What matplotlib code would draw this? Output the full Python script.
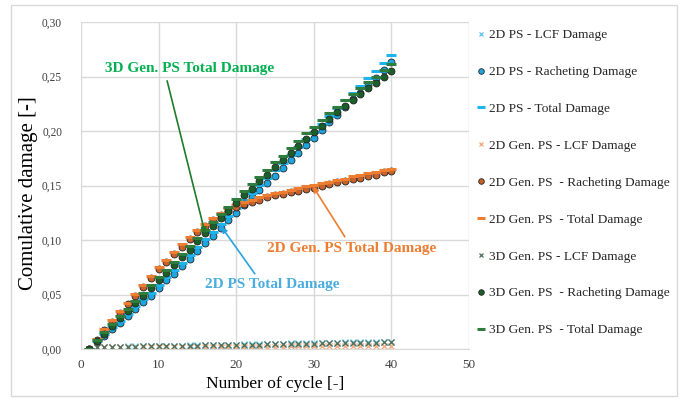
import numpy as np
import matplotlib
matplotlib.use("Agg")
import matplotlib.pyplot as plt
from matplotlib.patches import Rectangle

plt.rcParams['font.family'] = ['Liberation Serif', 'DejaVu Serif']

cycles = list(range(1, 41))

# 2D PS
lcf_2dps = [0.000, 0.0017, 0.0019, 0.0020, 0.0021, 0.0023, 0.0024, 0.0025, 0.0027, 0.0028,
            0.0029, 0.0031, 0.0032, 0.0033, 0.0035, 0.0036, 0.0037, 0.0039, 0.0040, 0.0041,
            0.0043, 0.0044, 0.0045, 0.0047, 0.0048, 0.0049, 0.0051, 0.0052, 0.0053, 0.0055,
            0.0056, 0.0057, 0.0059, 0.0060, 0.0061, 0.0063, 0.0064, 0.0065, 0.0067, 0.0068]
rach_2dps = [0.000, 0.006, 0.012, 0.018, 0.024, 0.030, 0.037, 0.043, 0.049, 0.056,
             0.063, 0.069, 0.076, 0.083, 0.090, 0.097, 0.104, 0.111, 0.118, 0.125,
             0.132, 0.139, 0.146, 0.152, 0.159, 0.166, 0.173, 0.180, 0.187, 0.194,
             0.201, 0.208, 0.215, 0.222, 0.229, 0.235, 0.242, 0.249, 0.256, 0.263]
tot_2dps = [0.000, 0.0077, 0.0139, 0.0200, 0.0261, 0.0323, 0.0394, 0.0455, 0.0517, 0.0588,
            0.0659, 0.0721, 0.0792, 0.0863, 0.0935, 0.1006, 0.1077, 0.1149, 0.1220, 0.1291,
            0.1363, 0.1434, 0.1505, 0.1567, 0.1638, 0.1709, 0.1781, 0.1852, 0.1923, 0.1995,
            0.2066, 0.2137, 0.2209, 0.2280, 0.2351, 0.2413, 0.2484, 0.2555, 0.2627, 0.2698]

# 2D Gen. PS
lcf_2dgen = [0.000, 0.0015, 0.0015, 0.0016, 0.0016, 0.0016, 0.0017, 0.0017, 0.0017, 0.0018,
             0.0018, 0.0018, 0.0019, 0.0019, 0.0019, 0.0020, 0.0020, 0.0020, 0.0021, 0.0021,
             0.0021, 0.0021, 0.0022, 0.0022, 0.0022, 0.0022, 0.0023, 0.0023, 0.0023, 0.0023,
             0.0024, 0.0024, 0.0024, 0.0024, 0.0024, 0.0025, 0.0025, 0.0025, 0.0025, 0.0025]
rach_2dgen = [0.000, 0.008, 0.017, 0.025, 0.033, 0.041, 0.049, 0.057, 0.065, 0.073,
              0.080, 0.087, 0.094, 0.101, 0.107, 0.113, 0.118, 0.123, 0.127, 0.130,
              0.133, 0.135, 0.137, 0.139, 0.141, 0.142, 0.144, 0.145, 0.147, 0.148,
              0.150, 0.151, 0.153, 0.154, 0.156, 0.157, 0.159, 0.160, 0.162, 0.163]
tot_2dgen = [0.000, 0.0095, 0.0185, 0.0266, 0.0346, 0.0426, 0.0507, 0.0587, 0.0667, 0.0748,
             0.0818, 0.0888, 0.0959, 0.1029, 0.1089, 0.1150, 0.1200, 0.1250, 0.1291, 0.1321,
             0.1351, 0.1371, 0.1392, 0.1412, 0.1432, 0.1442, 0.1463, 0.1473, 0.1493, 0.1503,
             0.1524, 0.1534, 0.1554, 0.1564, 0.1584, 0.1595, 0.1615, 0.1625, 0.1645, 0.1655]

# 3D Gen. PS
lcf_3dgen = [0.000, 0.0016, 0.0017, 0.0019, 0.0020, 0.0021, 0.0022, 0.0023, 0.0025, 0.0026,
             0.0027, 0.0028, 0.0029, 0.0031, 0.0032, 0.0033, 0.0034, 0.0035, 0.0037, 0.0038,
             0.0039, 0.0040, 0.0041, 0.0043, 0.0044, 0.0045, 0.0046, 0.0047, 0.0049, 0.0050,
             0.0051, 0.0052, 0.0053, 0.0055, 0.0056, 0.0057, 0.0058, 0.0059, 0.0061, 0.0062]
rach_3dgen = [0.000, 0.007, 0.014, 0.021, 0.028, 0.035, 0.042, 0.049, 0.056, 0.063,
              0.070, 0.077, 0.084, 0.091, 0.099, 0.106, 0.113, 0.120, 0.127, 0.134,
              0.141, 0.147, 0.154, 0.160, 0.167, 0.173, 0.180, 0.186, 0.193, 0.199,
              0.205, 0.211, 0.217, 0.223, 0.228, 0.234, 0.239, 0.244, 0.250, 0.255]
tot_3dgen = [0.000, 0.0086, 0.0157, 0.0229, 0.0300, 0.0371, 0.0442, 0.0513, 0.0585, 0.0656,
             0.0727, 0.0798, 0.0869, 0.0941, 0.1022, 0.1093, 0.1164, 0.1235, 0.1307, 0.1378,
             0.1449, 0.1510, 0.1581, 0.1643, 0.1714, 0.1775, 0.1846, 0.1907, 0.1979, 0.2040,
             0.2101, 0.2162, 0.2223, 0.2285, 0.2336, 0.2397, 0.2448, 0.2499, 0.2561, 0.2612]

y_ticks = [0.00, 0.05, 0.10, 0.15, 0.20, 0.25, 0.30]
x_ticks = [0, 10, 20, 30, 40, 50]

fig = plt.figure(figsize=(6.81, 4.01), dpi=100)
ax = fig.add_axes([81 / 681, 52 / 401, 388 / 681, 327 / 401])

# Excel-like outer chart border
fig.patches.append(Rectangle((11 / 681, 5 / 401), 666 / 681, 391 / 401, transform=fig.transFigure,
                             fill=False, edgecolor='#d9d9d9', lw=1))

edge = '#222222'
series = [
    (lcf_2dps, '2D PS - LCF Damage', dict(marker='x', ms=4, mew=0.9, color='#5bc4ef')),
    (rach_2dps, '2D PS - Racheting Damage', dict(marker='o', ms=5, mfc='#1ea6e0', mec=edge, mew=0.6)),
    (tot_2dps, '2D PS - Total Damage', dict(marker='_', ms=7, mew=2.2, color='#1fb4ec')),
    (lcf_2dgen, '2D Gen. PS - LCF Damage', dict(marker='x', ms=4, mew=0.9, color='#f4a77a')),
    (rach_2dgen, '2D Gen. PS  - Racheting Damage', dict(marker='o', ms=5, mfc='#c8622a', mec=edge, mew=0.6)),
    (tot_2dgen, '2D Gen. PS  - Total Damage', dict(marker='_', ms=7, mew=2.2, color='#ed7d31')),
    (lcf_3dgen, '3D Gen. PS - LCF Damage', dict(marker='x', ms=4, mew=0.9, color='#4e6e58')),
    (rach_3dgen, '3D Gen. PS  - Racheting Damage', dict(marker='o', ms=5, mfc='#1b5e2a', mec=edge, mew=0.6)),
    (tot_3dgen, '3D Gen. PS  - Total Damage', dict(marker='_', ms=7, mew=2.2, color='#2e7d3e')),
]
for vals, label, style in series:
    ax.plot(cycles, vals, linestyle='none', label=label, **style)

ax.set_xlim(0, 50)
ax.set_ylim(0, 0.30)
ax.set_xticks(x_ticks)
ax.set_yticks(y_ticks)
ax.set_yticklabels([f'{v:.2f}'.replace('.', ',') for v in y_ticks])
ax.grid(True, color='#d9d9d9', lw=1)
ax.set_axisbelow(True)
for s in ax.spines.values():
    s.set_visible(False)
ax.spines['bottom'].set_visible(True)
ax.spines['bottom'].set_color('#d9d9d9')
ax.tick_params(axis='both', length=0, colors='#404040')
ax.tick_params(axis='y', pad=13.5, labelsize=8.3)
ax.tick_params(axis='x', pad=7, labelsize=9.5)
ax.set_xlabel('Number of cycle [-]', fontsize=12.5, labelpad=4)
ax.set_ylabel('Comulative damage [-]', fontsize=15)
ax.yaxis.set_label_coords(-0.11, 0.477)

# annotations: text and arrow drawn separately so the arrow tail sits where the original has it
ax.text(14.0, 0.257, '3D Gen. PS Total Damage', ha='center', va='center', fontsize=11,
        fontweight='bold', color='#00b050')
ax.annotate('', xy=(16.0, 0.106), xytext=(11.1, 0.246),
            arrowprops=dict(arrowstyle='-|>', color='#1f7a2a', lw=1.2, mutation_scale=8,
                            shrinkA=0, shrinkB=0))
ax.text(34.9, 0.092, '2D Gen. PS Total Damage', ha='center', va='center', fontsize=11,
        fontweight='bold', color='#ed7d31')
ax.annotate('', xy=(29.9, 0.149), xytext=(34.0, 0.103),
            arrowprops=dict(arrowstyle='-|>', color='#ed7d31', lw=1.2, mutation_scale=8,
                            shrinkA=0, shrinkB=0))
ax.text(24.7, 0.059, '2D PS Total Damage', ha='center', va='center', fontsize=11,
        fontweight='bold', color='#4bacdf')
ax.annotate('', xy=(18.1, 0.112), xytext=(22.4, 0.069),
            arrowprops=dict(arrowstyle='-|>', color='#29a3dc', lw=1.2, mutation_scale=8,
                            shrinkA=0, shrinkB=0))

fig.legend(loc='upper left', bbox_to_anchor=(478 / 681, 1 - 29 / 401), frameon=False,
           fontsize=9.6, handlelength=0.5, handletextpad=0.35, labelspacing=1.84,
           markerscale=0.8, borderaxespad=0, borderpad=0, labelcolor='#262626')

fig.savefig('out.png', dpi=100)
